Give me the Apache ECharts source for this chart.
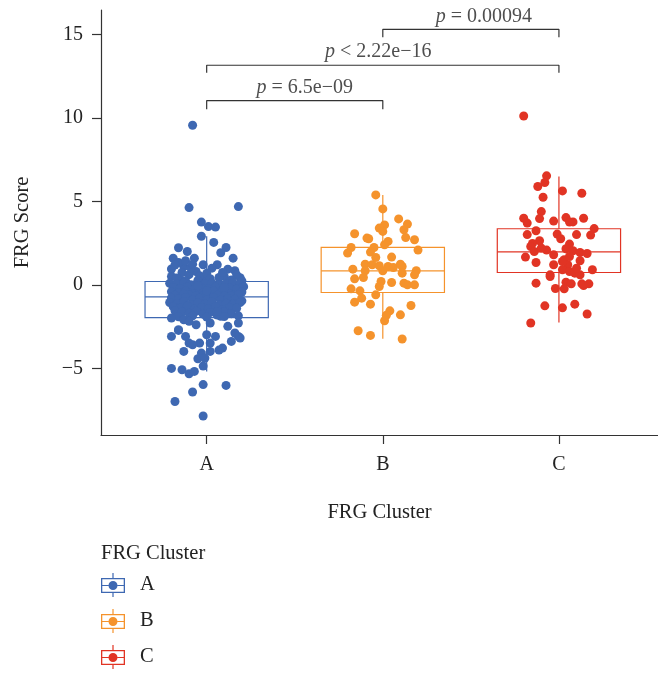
<!DOCTYPE html>
<html>
<head>
<meta charset="utf-8">
<script src="https://cdn.jsdelivr.net/npm/echarts@6/dist/echarts.min.js"></script>
<style>
  html, body { margin: 0; padding: 0; background: #fff; }
  #chart { width: 658px; height: 674px; }
</style>
</head>
<body>
<div id="chart"></div>
<script>
const categories = ["A", "B", "C"];
const categoryPos = [1, 2, 3];
const yTicks = [-5, 0, 5, 10, 15];

// [x, min whisker, Q1, median, Q3, max whisker]
const boxStats = [
    [1, -5.18, -1.95, -0.71, 0.21, 2.92],
    [2, -3.22, -0.45, 0.85, 2.25, 5.40],
    [3, -2.25, 0.75, 1.99, 3.37, 6.50]
];

// jittered points: [x, FRG score]
const pointsA = [
    [0.92, 9.57], [0.90, 4.64], [1.18, 4.70], [0.97, 3.77], [1.01, 3.50], [1.05, 3.47], [0.97, 2.92],
    [1.04, 2.55], [0.84, 2.23], [1.11, 2.25], [1.08, 1.93], [0.89, 2.01], [0.81, 1.60], [1.15, 1.61],
    [0.93, 1.61], [0.98, 1.21], [1.06, 1.21], [1.03, 1.01], [0.80, 0.96], [0.87, 1.11], [0.94, 0.81],
    [1.16, 0.86], [0.80, 0.51], [1.10, 0.51], [1.19, 0.44], [0.85, 0.31], [0.99, 0.31], [1.13, 0.21],
    [1.17, 0.61], [0.84, 1.35], [0.88, 1.45], [0.86, 0.75], [0.90, 0.62], [0.91, 1.02], [0.83, 0.42],
    [0.96, 0.55], [1.00, 0.70], [1.02, 0.38], [1.07, 0.45], [1.12, 0.95], [1.14, 0.30], [0.88, 0.25],
    [0.95, 0.28], [1.20, 0.25], [0.92, 1.25], [1.09, 0.75], [0.82, 1.20],
    [0.79, 0.10], [0.83, 0.05], [0.87, 0.12], [0.91, 0.02], [0.95, 0.15], [0.99, 0.08], [1.03, 0.12],
    [1.07, 0.00], [1.11, 0.06], [1.15, 0.14], [1.19, 0.02], [1.21, -0.10], [0.81, -0.15], [0.85, -0.22],
    [0.89, -0.12], [0.93, -0.28], [0.97, -0.18], [1.01, -0.25], [1.05, -0.14], [1.09, -0.30], [1.13, -0.20],
    [1.17, -0.26], [0.80, -0.40], [0.84, -0.48], [0.88, -0.36], [0.92, -0.52], [0.96, -0.42], [1.00, -0.55],
    [1.04, -0.38], [1.08, -0.50], [1.12, -0.44], [1.16, -0.58], [1.20, -0.42], [0.82, -0.62], [0.86, -0.68],
    [0.90, -0.60], [0.94, -0.66], [0.98, -0.64], [1.02, -0.70], [1.06, -0.62], [1.10, -0.68], [1.14, -0.65],
    [1.18, -0.60], [0.95, -0.05], [1.00, -0.35], [0.87, -0.55], [1.10, -0.15],
    [0.80, -0.78], [0.84, -0.85], [0.88, -0.76], [0.92, -0.90], [0.96, -0.80], [1.00, -0.88], [1.04, -0.75],
    [1.08, -0.92], [1.12, -0.82], [1.16, -0.86], [1.20, -0.95], [0.79, -1.05], [0.83, -1.12], [0.87, -1.00],
    [0.91, -1.18], [0.95, -1.08], [0.99, -1.15], [1.03, -1.02], [1.07, -1.20], [1.11, -1.10], [1.15, -1.16],
    [1.19, -1.05], [0.81, -1.30], [0.85, -1.38], [0.89, -1.28], [0.93, -1.45], [0.97, -1.35], [1.01, -1.42],
    [1.05, -1.30], [1.09, -1.48], [1.13, -1.36], [1.17, -1.40], [0.82, -1.55], [0.86, -1.62], [0.90, -1.70],
    [0.94, -1.58], [0.98, -1.75], [1.02, -1.65], [1.06, -1.80], [1.10, -1.60], [1.14, -1.72], [1.18, -1.85],
    [0.84, -1.90], [0.92, -1.85], [1.00, -1.92], [1.08, -1.88],
    [0.80, -1.98], [0.84, -2.68], [0.80, -3.08], [0.84, -2.72], [0.87, -3.98], [0.88, -3.08], [0.80, -5.00],
    [0.86, -5.08], [0.90, -5.32], [0.93, -5.18], [0.98, -4.86], [0.95, -4.42], [0.98, -5.97], [0.92, -6.41],
    [1.11, -6.02], [0.82, -6.98], [0.98, -7.85], [1.18, -3.08], [1.16, -2.88], [1.14, -3.38], [1.09, -3.78],
    [1.07, -3.90], [1.02, -3.98], [0.97, -4.08], [1.00, -2.98], [1.02, -3.48], [0.96, -3.48], [0.92, -3.58],
    [0.90, -3.48], [1.18, -2.28], [1.12, -2.48], [1.10, -1.89], [0.87, -2.08], [0.94, -2.38], [1.02, -2.28],
    [0.90, -2.18], [1.19, -3.18], [0.99, -4.38], [1.05, -3.08], [1.06, -1.59]
];

const pointsB = [
    [1.96, 5.40], [2.00, 4.56], [2.09, 3.96], [2.14, 3.65], [2.12, 3.31], [2.01, 3.60], [1.98, 3.41],
    [2.00, 3.21], [1.84, 3.07], [1.92, 2.77], [2.13, 2.84], [2.18, 2.71], [2.03, 2.61], [2.01, 2.41],
    [1.82, 2.25], [1.80, 1.91], [1.95, 2.25], [1.93, 1.97], [2.20, 2.09], [2.05, 1.67], [1.90, 1.25],
    [1.94, 1.21], [1.98, 1.15], [2.03, 1.11], [2.06, 1.05], [2.11, 1.11], [1.83, 0.95], [1.90, 0.85],
    [2.00, 0.85], [2.11, 0.71], [2.19, 0.85], [2.18, 0.61], [1.84, 0.37], [1.89, 0.45], [1.99, 0.21],
    [2.05, 0.15], [2.12, 0.11], [2.14, 0.01], [2.18, 0.01], [1.98, -0.09], [1.82, -0.23], [1.87, -0.35],
    [1.96, -0.59], [1.88, -0.79], [1.84, -1.03], [1.93, -1.15], [2.16, -1.23], [2.04, -1.55], [2.02, -1.82],
    [2.10, -1.79], [2.01, -2.14], [1.86, -2.74], [1.93, -3.02], [2.11, -3.24], [1.96, 1.65], [2.10, 1.25],
    [1.91, 2.81]
];

const pointsC = [
    [2.80, 10.13], [2.93, 6.54], [2.92, 6.14], [2.88, 5.90], [3.02, 5.64], [3.13, 5.50], [2.91, 5.26],
    [2.90, 4.40], [2.89, 3.98], [2.80, 4.00], [2.82, 3.71], [2.97, 3.83], [3.04, 4.04], [3.06, 3.77],
    [3.08, 3.78], [3.14, 4.00], [3.20, 3.38], [3.18, 2.99], [2.82, 3.02], [2.87, 3.25], [2.99, 3.05],
    [3.01, 2.77], [3.10, 3.02], [2.89, 2.65], [2.85, 2.49], [2.84, 2.31], [2.93, 2.09], [2.86, 2.01],
    [3.06, 2.45], [3.04, 2.17], [3.08, 2.05], [3.12, 1.95], [3.16, 1.89], [2.81, 1.67], [2.97, 1.81],
    [3.03, 1.51], [3.06, 1.71], [3.12, 1.45], [2.87, 1.35], [2.97, 1.21], [3.05, 1.21], [2.95, 0.61],
    [2.95, 0.51], [3.02, 0.91], [3.06, 0.81], [3.09, 0.71], [3.12, 0.61], [3.19, 0.91], [2.87, 0.11],
    [3.04, 0.17], [3.07, 0.07], [3.13, 0.07], [3.17, 0.07], [3.14, -0.03], [2.98, -0.21], [3.03, -0.23],
    [2.92, -1.25], [3.02, -1.37], [3.09, -1.15], [3.16, -1.74], [2.84, -2.28], [3.10, 1.01], [3.02, 1.41],
    [2.90, 2.21]
];

// significance brackets: [from, to, bar height, tip height]
const brackets = [
    [1, 2, 11.05, 10.53],
    [1, 3, 13.17, 12.72],
    [2, 3, 15.32, 14.84]
];
const pLabelText = ["= 6.5e\u221209", "< 2.22e\u221216", "= 0.00094"];
const pLabelX = [1.557, 1.974, 2.574];
const pLabelY = [11.85, 13.98, 16.1];

const colors = ["#3E68B2", "#F5932C", "#E13424"];
const font = "'Liberation Serif', 'DejaVu Serif', serif";
const ink = "#222";

const legendIcon = "path://M11.4 0H12.6V5H11.4Z M11.4 20H12.6V24H11.4Z M0 5H24V20H0Z M1.3 6.3V18.7H22.7V6.3Z " +
    "M1.3 11.9H7.5V13.1H1.3Z M16.5 11.9H22.7V13.1H16.5Z M7.5 12.5A4.5 4.5 0 1 0 16.5 12.5A4.5 4.5 0 1 0 7.5 12.5Z";

const chart = echarts.init(document.getElementById("chart"));

const bracketSeries = brackets.map(b => ({
    type: "line",
    data: [[b[0], b[3]], [b[0], b[2]], [b[1], b[2]], [b[1], b[3]]],
    symbol: "none",
    silent: true,
    lineStyle: {color: "#333", width: 1.2},
    z: 3
}));

const option = {
    animation: false,
    title: {
        text: "FRG Cluster",
        left: 101,
        top: 543,
        padding: 0,
        textStyle: {fontFamily: font, fontSize: 20.5, fontWeight: "normal", color: ink}
    },
    legend: {
        orient: "vertical",
        left: 101,
        top: 573,
        itemWidth: 24,
        itemHeight: 24,
        itemGap: 12,
        padding: 0,
        selectedMode: false,
        data: categories.map(c => ({name: c, icon: legendIcon})),
        textStyle: {fontFamily: font, fontSize: 20.5, color: ink, padding: [0, 0, 0, 10]}
    },
    grid: {left: 101, right: 0, top: 10, bottom: 239},
    xAxis: {
        type: "value",
        min: 0.4,
        max: 3.5625,
        name: "FRG Cluster",
        nameLocation: "middle",
        nameGap: 67,
        nameTextStyle: {fontFamily: font, fontSize: 20.5, color: ink},
        splitLine: {show: false},
        axisLine: {show: true, onZero: false, lineStyle: {color: "#333", width: 1.2}},
        axisTick: {show: true, length: 9, customValues: categoryPos, lineStyle: {color: "#333", width: 1.2}},
        axisLabel: {
            customValues: categoryPos,
            margin: 20,
            fontFamily: font,
            fontSize: 20,
            color: ink,
            formatter: v => categories[Math.round(v) - 1] || ""
        }
    },
    yAxis: {
        type: "value",
        min: -8.99,
        max: 16.48,
        name: "FRG Score",
        nameLocation: "middle",
        nameGap: 68,
        nameTextStyle: {fontFamily: font, fontSize: 20.5, color: ink},
        splitLine: {show: false},
        axisLine: {show: true, onZero: false, lineStyle: {color: "#333", width: 1.2}},
        axisTick: {show: true, length: 9, customValues: yTicks, lineStyle: {color: "#333", width: 1.2}},
        axisLabel: {
            customValues: yTicks,
            margin: 18,
            fontFamily: font,
            fontSize: 20,
            color: ink,
            formatter: v => (v < 0 ? "\u2212" + Math.abs(v) : String(v))
        }
    },
    series: [
        {
            type: "custom",
            silent: true,
            data: boxStats,
            encode: {x: 0, y: [1, 2, 3, 4, 5]},
            z: 1,
            renderItem: (params, api) => {
                const x = api.value(0);
                const lo = api.coord([x, api.value(1)]);
                const q1 = api.coord([x, api.value(2)]);
                const med = api.coord([x, api.value(3)]);
                const q3 = api.coord([x, api.value(4)]);
                const hi = api.coord([x, api.value(5)]);
                const half = api.size([0.7, 0])[0] / 2;
                const style = {stroke: colors[params.dataIndex], lineWidth: 1.2, fill: "none"};
                return {
                    type: "group",
                    children: [
                        {type: "line", shape: {x1: hi[0], y1: hi[1], x2: q3[0], y2: q3[1]}, style},
                        {type: "line", shape: {x1: q1[0], y1: q1[1], x2: lo[0], y2: lo[1]}, style},
                        {type: "rect", shape: {x: q3[0] - half, y: q3[1], width: half * 2, height: q1[1] - q3[1]}, style},
                        {type: "line", shape: {x1: med[0] - half, y1: med[1], x2: med[0] + half, y2: med[1]}, style}
                    ]
                };
            }
        },
        ...[pointsA, pointsB, pointsC].map((pts, i) => ({
            name: categories[i],
            type: "scatter",
            data: pts,
            symbolSize: 9,
            silent: true,
            itemStyle: {color: colors[i], opacity: 1},
            z: 2
        })),
        ...bracketSeries,
        {
            type: "scatter",
            silent: true,
            symbolSize: 0,
            data: pLabelX.map((x, i) => [x, pLabelY[i], pLabelText[i]]),
            z: 4,
            label: {
                show: true,
                position: "inside",
                fontFamily: font,
                fontSize: 20,
                color: ink,
                formatter: p => "{i|p} " + p.value[2],
                rich: {i: {fontStyle: "italic", fontFamily: font, fontSize: 20, color: ink}}
            }
        }
    ]
};

chart.setOption(option);
</script>
</body>
</html>
